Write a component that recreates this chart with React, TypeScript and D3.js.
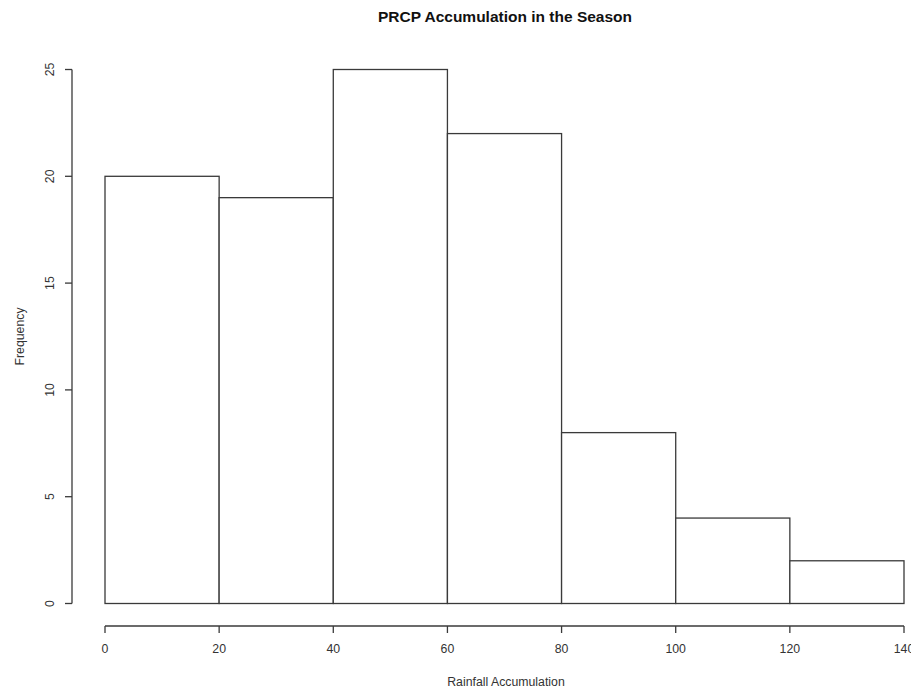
import React from "react";
import * as d3 from "d3";

const binStarts = [0, 20, 40, 60, 80, 100, 120];
const binWidth = 20;
const counts = [20, 19, 25, 22, 8, 4, 2];
const xTicks = [0, 20, 40, 60, 80, 100, 120, 140];
const yTicks = [0, 5, 10, 15, 20, 25];
const title = "PRCP Accumulation in the Season";
const xLabel = "Rainfall Accumulation";
const yLabel = "Frequency";

const W = 911;
const H = 688;

export default function App() {
  const x = d3.scaleLinear().domain([0, 140]).range([105, 904]);
  const y = d3.scaleLinear().domain([0, 25]).range([603.5, 69.5]);
  const stroke = "#3a3a3a";
  const font = "Liberation Sans, Arial, sans-serif";
  const axisY = 626;
  const axisX = 72;
  const fs = 12.3;
  return (
    <svg
      width={W}
      height={H}
      style={{ position: "absolute", left: 0, top: 0, background: "#fff" }}
      fontFamily={font}
    >
      <rect x={0} y={0} width={W} height={H} fill="#fff" />
      <text x={505} y={22} textAnchor="middle" fontSize={15.5} fontWeight="bold" fill="#111">
        {title}
      </text>
      {binStarts.map((b, i) => (
        <rect
          key={i}
          x={x(b)}
          y={y(counts[i])}
          width={x(b + binWidth) - x(b)}
          height={y(0) - y(counts[i])}
          fill="#fff"
          stroke={stroke}
          strokeWidth={1.3}
        />
      ))}
      {/* x axis */}
      <line x1={x(0)} x2={x(140)} y1={axisY} y2={axisY} stroke={stroke} strokeWidth={1.3} />
      {xTicks.map((t) => (
        <g key={t}>
          <line x1={x(t)} x2={x(t)} y1={axisY} y2={axisY + 7} stroke={stroke} strokeWidth={1.3} />
          <text x={x(t)} y={652.5} textAnchor="middle" fontSize={fs} fill="#333">
            {t}
          </text>
        </g>
      ))}
      <text x={506} y={686} textAnchor="middle" fontSize={fs} fill="#333">
        {xLabel}
      </text>
      {/* y axis */}
      <line x1={axisX} x2={axisX} y1={y(0)} y2={y(25)} stroke={stroke} strokeWidth={1.3} />
      {yTicks.map((t) => (
        <g key={t}>
          <line x1={axisX - 7} x2={axisX} y1={y(t)} y2={y(t)} stroke={stroke} strokeWidth={1.3} />
          <text
            transform={`translate(53.5,${y(t)}) rotate(-90)`}
            textAnchor="middle"
            fontSize={fs}
            fill="#333"
          >
            {t}
          </text>
        </g>
      ))}
      <text
        transform={`translate(24,${(y(0) + y(25)) / 2}) rotate(-90)`}
        textAnchor="middle"
        fontSize={fs}
        fill="#333"
      >
        {yLabel}
      </text>
    </svg>
  );
}
